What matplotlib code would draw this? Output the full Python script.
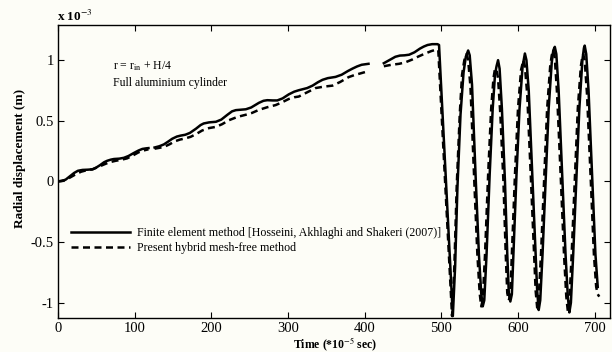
import numpy as np
import matplotlib
matplotlib.use('Agg')
from matplotlib import pyplot as plt

# time in 1e-5 s, radial displacement in 1e-3 m (nan = break in the curve)
fem_t = [0, 5, 10, 15, 21, 26, 32, 39, 45, 50, 55, 60, 64, 69, 73, 80, 86, 92, 99, 105, 110,
         115, 118, 121, 126, 132, 138, 144, 149, 155, 160, 166, 172, 180, 186, 190, 197, 206,
         213, 221, 227, 232, 239, 245, 252, 262, 268, 273, 280, 286, 293, 301, 308, 314, 320,
         325, 332, 339, 345, 352, 362, 370, 378, 384, 390, 396, 405, 415, 425, 432, 440, 446,
         452, 458, 465, 472, 477, 482, 488, 495, 497,
         515, 518, 521, 525, 529, 532, 535, 537, 540, 545, 549, 552, 554, 556, 559, 563, 567,
         570, 572, 574, 576, 579, 583, 586, 588, 590, 592, 594, 598, 602, 606, 609, 611, 614,
         619, 623, 625, 627, 629, 632, 636, 640, 644, 646, 648, 650, 653, 658, 662, 665, 667,
         669, 672, 676, 680, 684, 686, 687, 689, 692, 697, 701, 704]
fem_u = [0.0, 0.003, 0.015, 0.04, 0.07, 0.088, 0.095, 0.097, 0.10, 0.115, 0.135, 0.158, 0.17,
         0.18, 0.185, 0.188, 0.195, 0.21, 0.235, 0.255, 0.268, 0.273, 0.275, np.nan, 0.28,
         0.29, 0.305, 0.33, 0.352, 0.37, 0.378, 0.385, 0.40, 0.435, 0.465, 0.478, 0.487,
         0.492, 0.51, 0.55, 0.578, 0.588, 0.592, 0.595, 0.61, 0.648, 0.665, 0.67, 0.668,
         0.668, 0.685, 0.718, 0.74, 0.752, 0.762, 0.77, 0.79, 0.818, 0.838, 0.852, 0.862,
         0.88, 0.91, 0.93, 0.948, 0.962, 0.97, np.nan, 0.975, 1.0, 1.028, 1.038, 1.04, 1.045,
         1.065, 1.095, 1.112, 1.125, 1.132, 1.132, 1.125,
         -1.11, -0.7, -0.05, 0.55, 0.9, 1.03, 1.08, 1.04, 0.8, 0.0, -0.6, -0.92, -1.03, -0.98,
         -0.6, 0.05, 0.6, 0.88, 0.95, 1.0, 0.93, 0.6, 0.0, -0.6, -0.92, -0.99, -0.93, -0.6,
         0.05, 0.6, 0.95, 1.055, 1.0, 0.75, 0.0, -0.6, -0.9, -1.06, -0.98, -0.6, 0.0, 0.6,
         0.98, 1.08, 1.11, 1.05, 0.75, 0.0, -0.6, -0.95, -1.08, -1.0, -0.6, 0.0, 0.6, 1.0,
         1.1, 1.12, 1.05, 0.75, 0.0, -0.6, -0.87]

mf_t = [0, 8, 15, 22, 30, 37, 45, 52, 60, 67, 75, 82, 90, 97, 105, 112, 118, 121, 126, 133,
        140, 146, 152, 159, 166, 173, 180, 188, 197, 206, 214, 223, 234, 245, 253, 262, 273,
        284, 292, 301, 308, 314, 325, 336, 347, 358, 368, 379, 387, 394, 405, 415, 425, 435,
        445, 453, 462, 470, 479, 487, 495, 496,
        514, 517, 520, 524, 527, 530, 533, 535, 538, 543, 547, 550, 552, 554, 557, 561, 565,
        568, 570, 572, 574, 577, 581, 584, 586, 588, 590, 592, 596, 600, 604, 607, 609, 612,
        617, 621, 623, 625, 627, 630, 634, 638, 642, 644, 646, 648, 651, 656, 660, 663, 665,
        667, 670, 674, 678, 682, 684, 685, 687, 690, 695, 699, 702, 704, 706]
mf_u = [0.0, 0.01, 0.03, 0.055, 0.08, 0.092, 0.10, 0.118, 0.14, 0.158, 0.17, 0.178, 0.19,
        0.212, 0.24, 0.256, 0.265, np.nan, 0.27, 0.278, 0.29, 0.308, 0.33, 0.345, 0.355,
        0.368, 0.39, 0.42, 0.44, 0.45, 0.472, 0.505, 0.532, 0.55, 0.565, 0.59, 0.612, 0.63,
        0.652, 0.68, 0.694, 0.70, 0.735, 0.77, 0.782, 0.79, 0.82, 0.86, 0.878, 0.89, 0.91,
        np.nan, 0.95, 0.962, 0.97, 0.982, 1.005, 1.03, 1.055, 1.075, 1.09, 1.085,
        -1.11, -0.7, -0.05, 0.55, 0.88, 1.0, 1.05, 1.0, 0.78, 0.0, -0.6, -0.92, -1.03, -0.98,
        -0.6, 0.05, 0.6, 0.85, 0.93, 0.92, 0.85, 0.55, 0.0, -0.6, -0.92, -0.98, -0.93, -0.6,
        0.05, 0.6, 0.92, 1.0, 0.95, 0.72, 0.0, -0.6, -0.9, -1.04, -0.96, -0.6, 0.0, 0.6, 0.95,
        1.04, 1.08, 1.02, 0.72, 0.0, -0.6, -0.95, -1.07, -1.0, -0.6, 0.0, 0.6, 0.95, 1.03,
        1.05, 1.0, 0.72, 0.0, -0.6, -0.87, -0.93, -0.95]

fem_label = 'Finite element method [Hosseini, Akhlaghi and Shakeri (2007)]'
mf_label = 'Present hybrid mesh-free method'

plt.rcParams['font.family'] = ['Liberation Serif', 'DejaVu Serif']
plt.rcParams['mathtext.fontset'] = 'stix'

bg = '#fdfdf7'
fig = plt.figure(figsize=(6.12, 3.52), dpi=100, facecolor=bg)
ax = fig.add_axes([58 / 612, 1 - 318 / 352, 552 / 612, 293 / 352], facecolor=bg)

ax.plot(fem_t, fem_u, color='black', linewidth=1.8, linestyle='-', label=fem_label)
ax.plot(mf_t, mf_u, color='black', linewidth=1.8, linestyle=(0, (2.8, 1.8)), label=mf_label)

ax.set_xlim(0, 720)
ax.set_ylim(-1.126, 1.29)
ax.set_xticks([0, 100, 200, 300, 400, 500, 600, 700])
ax.set_yticks([-1, -0.5, 0, 0.5, 1])
ax.set_yticklabels(['-1', '-0.5', '0', '0.5', '1'])
ax.tick_params(direction='in', top=True, right=True, length=4, width=0.8,
               labelsize=10.5, pad=3)
for s in ax.spines.values():
    s.set_linewidth(1.0)

ax.set_xlabel('Time (*10$^{-5}$ sec)', fontsize=8.5, fontweight='bold')
ax.set_ylabel('Radial displacement (m)', fontsize=9.5, fontweight='bold')
ax.yaxis.set_label_coords(-32 / 552, (318 - 158) / 293)
ax.xaxis.set_label_coords((335 - 58) / 552, -(336 - 318) / 293)

fig.text(57 / 612, 1 - 16 / 352, r'x 10$^{-3}$', fontsize=9.5, fontweight='bold', va='center')
fig.text(113 / 612, 1 - 66 / 352, r'r = r$_{\mathrm{in}}$ + H/4', fontsize=8.5, va='center')
fig.text(113 / 612, 1 - 83 / 352, 'Full aluminium cylinder', fontsize=8.5, va='center')

leg = ax.legend(loc='upper left', bbox_to_anchor=(13 / 552, (318 - 227) / 293),
                frameon=False, fontsize=8.6, handlelength=4.9, handletextpad=0.6,
                labelspacing=0.25, borderaxespad=0, borderpad=0)

plt.savefig('out.png', dpi=100, facecolor=bg)
